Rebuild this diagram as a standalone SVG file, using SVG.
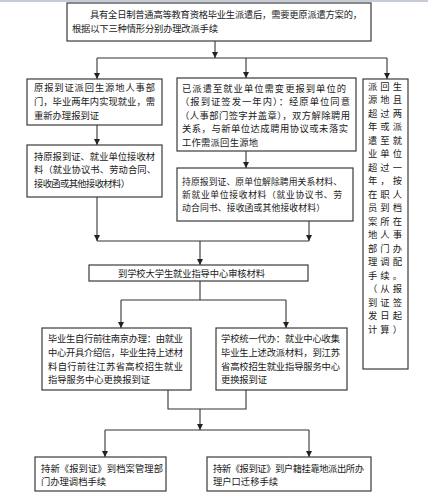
<svg xmlns="http://www.w3.org/2000/svg" width="428" height="500" viewBox="0 0 428 500">
<defs>
<style>
.box{fill:#fff;stroke:#3a3a3a;stroke-width:1.2}
.t{font-family:"Noto Sans CJK SC","Noto Sans",sans-serif;font-size:9.3px;fill:#1a1a1a}
.s{font-size:8.8px}
.c{fill:none;stroke:#333;stroke-width:1.1}
</style>
<marker id="ah" viewBox="0 0 6 6" refX="6" refY="3" markerWidth="6" markerHeight="6" markerUnits="userSpaceOnUse" orient="auto">
<path d="M0,0 L6,3 L0,6 z" fill="#222"/>
</marker>
</defs>
<rect x="0" y="0" width="428" height="500" fill="#fff"/>
<rect x="0" y="0" width="428" height="2" fill="#c5ccd6"/>

<g id="connectors">
<line class="c" x1="215" y1="41" x2="215" y2="58" marker-end="url(#ah)"/>
<polyline class="c" points="97,58 387,58"/>
<line class="c" x1="97" y1="58" x2="97" y2="79" marker-end="url(#ah)"/>
<line class="c" x1="246" y1="58" x2="246" y2="78" marker-end="url(#ah)"/>
<line class="c" x1="387" y1="58" x2="387" y2="79" marker-end="url(#ah)"/>
<line class="c" x1="97" y1="125" x2="97" y2="145" marker-end="url(#ah)"/>
<line class="c" x1="246" y1="151" x2="246" y2="168" marker-end="url(#ah)"/>
<line class="c" x1="97" y1="197" x2="97" y2="241" marker-end="url(#ah)"/>
<line class="c" x1="309" y1="221" x2="309" y2="241" marker-end="url(#ah)"/>
<polyline class="c" points="97,241 309,241"/>
<line class="c" x1="200" y1="241" x2="200" y2="265" marker-end="url(#ah)"/>
<line class="c" x1="200" y1="281" x2="200" y2="300"/>
<polyline class="c" points="121,300 286,300"/>
<line class="c" x1="121" y1="300" x2="121" y2="328" marker-end="url(#ah)"/>
<line class="c" x1="286" y1="300" x2="286" y2="328" marker-end="url(#ah)"/>
<polyline class="c" points="168,390 168,409 246,409 246,390"/>
<line class="c" x1="200" y1="409" x2="200" y2="430" marker-end="url(#ah)"/>
<polyline class="c" points="105,430 309,430"/>
<line class="c" x1="105" y1="430" x2="105" y2="457" marker-end="url(#ah)"/>
<line class="c" x1="309" y1="430" x2="309" y2="457" marker-end="url(#ah)"/>
</g>

<g id="n_top">
<rect class="box" x="67" y="3" width="304" height="38"/>
<text class="t" x="90" y="18" textLength="272" lengthAdjust="spacing">具有全日制普通高等教育资格毕业生派遣后，需要更原派遣方案的，</text>
<text class="t" x="72" y="32" textLength="146" lengthAdjust="spacing">根据以下三种情形分别办理改派手续</text>
</g>

<g id="n_left1">
<rect class="box" x="27" y="79" width="135" height="46"/>
<text class="t" x="34" y="90.5" textLength="121" lengthAdjust="spacing">原报到证派回生源地人事部</text>
<text class="t" x="34" y="104.5" textLength="121" lengthAdjust="spacing">门，毕业两年内实现就业，需</text>
<text class="t" x="34" y="118.5" textLength="65" lengthAdjust="spacing">重新办理报到证</text>
</g>

<g id="n_left2">
<rect class="box" x="27" y="145" width="135" height="52"/>
<text class="t" x="34" y="159.5" textLength="121" lengthAdjust="spacing">持原报到证、就业单位接收材</text>
<text class="t" x="34" y="173" textLength="122" lengthAdjust="spacing">料（就业协议书、劳动合同、</text>
<text class="t" x="34" y="186.5" textLength="96" lengthAdjust="spacing">接收函或其他接收材料）</text>
</g>

<g id="n_mid1">
<rect class="box" x="177" y="78" width="179" height="73"/>
<text class="t" x="182" y="91.5" textLength="164" lengthAdjust="spacing">已派遣至就业单位需变更报到单位的</text>
<text class="t" x="180" y="105" textLength="170" lengthAdjust="spacing">（报到证签发一年内）：经原单位同意</text>
<text class="t" x="180" y="118.5" textLength="170" lengthAdjust="spacing">（人事部门签字并盖章），双方解除聘用</text>
<text class="t" x="182" y="132" textLength="166" lengthAdjust="spacing">关系，与新单位达成聘用协议或未落实</text>
<text class="t" x="182" y="145.5" textLength="76" lengthAdjust="spacing">工作需派回生源地</text>
</g>

<g id="n_mid2">
<rect class="box" x="177" y="168" width="176" height="53"/>
<text class="t s" x="182" y="185" textLength="160" lengthAdjust="spacing">持原报到证、原单位解除聘用关系材料、</text>
<text class="t s" x="182" y="198" textLength="160" lengthAdjust="spacing">新就业单位接收材料（就业协议书、劳</text>
<text class="t s" x="182" y="211" textLength="143" lengthAdjust="spacing">动合同书、接收函或其他接收材料）</text>
</g>

<g id="n_right">
<rect class="box" x="363" y="79" width="45" height="290"/>
<g class="t">
<text x="368" y="89.5" textLength="34" lengthAdjust="spacing">派回生</text>
<text x="368" y="103" textLength="34" lengthAdjust="spacing">源地且</text>
<text x="368" y="116.5" textLength="34" lengthAdjust="spacing">超过两</text>
<text x="368" y="130" textLength="34" lengthAdjust="spacing">年或派</text>
<text x="368" y="143.5" textLength="34" lengthAdjust="spacing">遣至就</text>
<text x="368" y="157" textLength="34" lengthAdjust="spacing">业单位</text>
<text x="368" y="170.5" textLength="34" lengthAdjust="spacing">超过一</text>
<text x="368" y="184" textLength="34" lengthAdjust="spacing">年，按</text>
<text x="368" y="197.5" textLength="34" lengthAdjust="spacing">在职人</text>
<text x="368" y="211" textLength="34" lengthAdjust="spacing">员到档</text>
<text x="368" y="224.5" textLength="34" lengthAdjust="spacing">案所在</text>
<text x="368" y="238" textLength="34" lengthAdjust="spacing">地人事</text>
<text x="368" y="251.5" textLength="34" lengthAdjust="spacing">部门办</text>
<text x="368" y="265" textLength="34" lengthAdjust="spacing">理调配</text>
<text x="368" y="278.5" textLength="34" lengthAdjust="spacing">手续。</text>
<text x="368" y="292" textLength="34" lengthAdjust="spacing">（从报</text>
<text x="368" y="305.5" textLength="34" lengthAdjust="spacing">到证签</text>
<text x="368" y="319" textLength="34" lengthAdjust="spacing">发日起</text>
<text x="368" y="332.5" textLength="34" lengthAdjust="spacing">计算）</text>
</g>
</g>

<g id="n_center">
<rect class="box" x="89" y="265" width="219" height="16"/>
<text class="t" x="118" y="276.5" textLength="147" lengthAdjust="spacing">到学校大学生就业指导中心审核材料</text>
</g>

<g id="n_low_left">
<rect class="box" x="42" y="328" width="149" height="62"/>
<text class="t" x="48" y="341.5" textLength="135" lengthAdjust="spacing">毕业生自行前往南京办理：由就业</text>
<text class="t" x="48" y="355.5" textLength="135" lengthAdjust="spacing">中心开具介绍信，毕业生持上述材</text>
<text class="t" x="48" y="369.5" textLength="135" lengthAdjust="spacing">料自行前往江苏省高校招生就业</text>
<text class="t" x="48" y="383" textLength="102" lengthAdjust="spacing">指导服务中心更换报到证</text>
</g>

<g id="n_low_right">
<rect class="box" x="216" y="328" width="131" height="62"/>
<text class="t" x="221" y="342" textLength="119" lengthAdjust="spacing">学校统一代办：就业中心收集</text>
<text class="t" x="221" y="356" textLength="119" lengthAdjust="spacing">毕业生上述改派材料，到江苏</text>
<text class="t" x="221" y="369.5" textLength="119" lengthAdjust="spacing">省高校招生就业指导服务中心</text>
<text class="t" x="221" y="383" textLength="46" lengthAdjust="spacing">更换报到证</text>
</g>

<g id="n_bottom_left">
<rect class="box" x="35" y="457" width="131" height="34"/>
<text class="t" x="41" y="471.5" textLength="122" lengthAdjust="spacing">持新《报到证》到档案管理部</text>
<text class="t" x="41" y="484.5" textLength="65" lengthAdjust="spacing">门办理调档手续</text>
</g>

<g id="n_bottom_right">
<rect class="box" x="207" y="457" width="164" height="34"/>
<text class="t" x="213" y="471.5" textLength="151" lengthAdjust="spacing">持新《报到证》到户籍挂靠地派出所办</text>
<text class="t" x="213" y="484.5" textLength="65" lengthAdjust="spacing">理户口迁移手续</text>
</g>
</svg>
